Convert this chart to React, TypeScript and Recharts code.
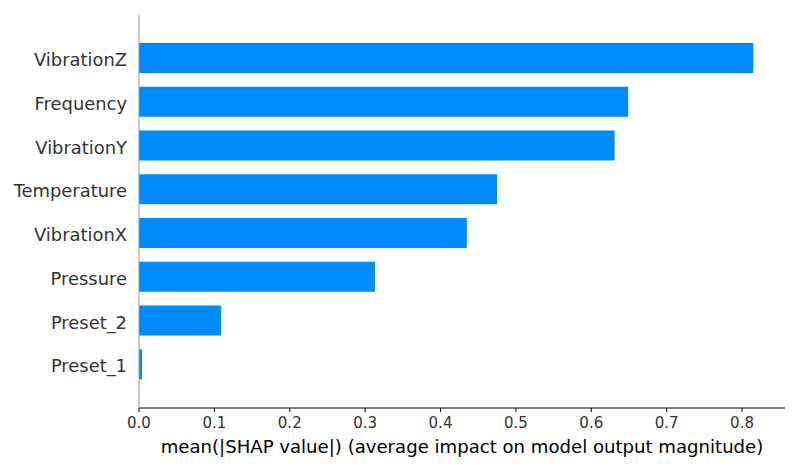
import React from 'react';
import { BarChart, Bar, XAxis, YAxis } from 'recharts';

const features = ['VibrationZ', 'Frequency', 'VibrationY', 'Temperature', 'VibrationX', 'Pressure', 'Preset_2', 'Preset_1'];
const meanAbsShap = [0.815, 0.649, 0.631, 0.475, 0.435, 0.313, 0.109, 0.004];
const xTicks = [0, 0.1, 0.2, 0.3, 0.4, 0.5, 0.6, 0.7, 0.8];

const data = features.map((name, i) => ({ name, value: meanAbsShap[i] }));

const FONT = 'DejaVu Sans, sans-serif';

export default function App() {
  return (
    <div style={{ position: 'absolute', left: 0, top: 0, width: 800, height: 470, background: '#fff' }}>
      <BarChart
        width={800}
        height={470}
        data={data}
        layout="vertical"
        margin={{ top: 15, right: 15, bottom: 0, left: 0 }}
      >
        <XAxis
          type="number"
          domain={[0, 0.857]}
          ticks={xTicks}
          tickFormatter={(v: number) => v.toFixed(1)}
          axisLine={{ stroke: '#000', strokeWidth: 1 }}
          tickLine={{ stroke: '#000' }}
          tickSize={4}
          tickMargin={5}
          height={62}
          tick={{ fontSize: 15, fill: '#333333', fontFamily: FONT }}
          label={{
            value: 'mean(|SHAP value|) (average impact on model output magnitude)',
            position: 'insideBottom',
            offset: 17,
            style: { fontSize: 18.1, fill: '#000', fontFamily: FONT },
          }}
        />
        <YAxis
          type="category"
          dataKey="name"
          width={139}
          axisLine={{ stroke: '#999999', strokeWidth: 1 }}
          tickLine={false}
          tickSize={0}
          tickMargin={12}
          padding={{ top: 21, bottom: 22 }}
          tick={{ fontSize: 17.9, fill: '#333333', fontFamily: FONT, dy: 2 }}
          interval={0}
        />
        <Bar dataKey="value" fill="#008bfb" barSize={30} isAnimationActive={false} />
      </BarChart>
    </div>
  );
}
